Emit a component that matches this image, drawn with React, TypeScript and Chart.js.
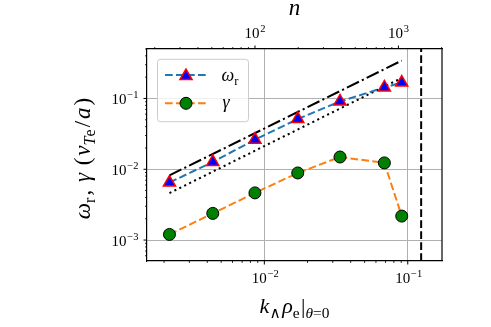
import React, { useEffect, useRef } from 'react';
import { Chart, registerables } from 'chart.js';

Chart.register(...registerables);

// ---- data ----
const kValues = [0.00218, 0.00437, 0.0086, 0.0171, 0.0337, 0.0687, 0.0908];
const omegaR = [0.0065, 0.0127, 0.0262, 0.0513, 0.0908, 0.143, 0.168];
const gammaValues = [0.0012, 0.00238, 0.00464, 0.00887, 0.0149, 0.0123, 0.00218];
const refK = [0.00218, 0.0908];
const refDashDot = [0.0082, 0.343];
const refDotted = [0.0046, 0.195];
const kCutoff = 0.124;
const kRange = [0.00152, 0.1733];
const yRange = [0.000506, 0.5];
const nRange = [17.66, 2013];
const xTicks = [0.01, 0.1];
const xTickLabels = ['10^−2', '10^−1'];
const yTicks = [0.001, 0.01, 0.1];
const yTickLabels = ['10^−3', '10^−2', '10^−1'];
const nTicks = [100, 1000];
const nTickLabels = ['10^2', '10^3'];

const SERIF = "'Liberation Serif', 'DejaVu Serif', serif";
const BLUE = '#1f77b4';
const ORANGE = '#ff7f0e';
const GRID = '#b0b0b0';
const DASH = [7.7, 3.3];
const DASHDOT = [13.3, 3.3, 2.1, 3.3];
const DOT = [2.1, 3.4];

const same = (a: number, b: number) => Math.abs(Math.log10(a) - Math.log10(b)) < 1e-6;
const isMajorOf = (ticks: number[]) => (c: any) =>
  c.tick && ticks.some((t) => same(t, c.tick.value)) ? GRID : 'rgba(0,0,0,0)';

type Seg = { t: string; i?: boolean; sub?: boolean };

function drawRich(
  ctx: CanvasRenderingContext2D, segs: Seg[], x: number, y: number, size: number,
  opts: { rotate?: boolean; align?: 'center' | 'left'; width?: number; maxGap?: number } = {}
) {
  ctx.save();
  ctx.translate(x, y);
  if (opts.rotate) ctx.rotate(-Math.PI / 2);
  ctx.textBaseline = 'alphabetic';
  ctx.textAlign = 'left';
  ctx.fillStyle = '#000';
  const font = (s: Seg) => `${s.i ? 'italic ' : ''}${s.sub ? size * 0.7 : size}px ${SERIF}`;
  const widths = segs.map((s) => { ctx.font = font(s); return ctx.measureText(s.t).width; });
  let total = widths.reduce((p, w) => p + w, 0);
  const gapBefore = segs.map((s, k) => k > 0 && !s.sub);
  const nGaps = gapBefore.filter(Boolean).length;
  let gap = 0;
  if (opts.width && nGaps > 0) {
    gap = Math.min(opts.maxGap ?? 2, Math.max(0, (opts.width - total) / nGaps));
    total += gap * nGaps;
  }
  let cx = opts.align === 'left' ? 0 : -total / 2;
  segs.forEach((s, k) => {
    if (gapBefore[k]) cx += gap;
    ctx.font = font(s);
    ctx.fillText(s.t, cx, s.sub ? size * 0.22 : 0);
    cx += widths[k];
  });
  ctx.restore();
}

function drawPow(ctx: CanvasRenderingContext2D, label: string, x: number, y: number, align: 'center' | 'right') {
  const [mant, exp] = label.split('^');
  const big = 15, small = 10.5;
  ctx.textBaseline = 'alphabetic';
  ctx.textAlign = 'left';
  ctx.fillStyle = '#000';
  ctx.font = `${big}px ${SERIF}`;
  const w1 = ctx.measureText(mant).width;
  ctx.font = `${small}px ${SERIF}`;
  const w2 = ctx.measureText(exp).width;
  const tot = w1 + 0.8 + w2;
  const sx = align === 'center' ? x - tot / 2 : x - tot;
  ctx.font = `${big}px ${SERIF}`;
  ctx.fillText(mant, sx, y);
  ctx.font = `${small}px ${SERIF}`;
  ctx.fillText(exp, sx + w1 + 0.8, y - 6.5);
}

function drawLogTicks(ctx: CanvasRenderingContext2D, scale: any, side: 'bottom' | 'left' | 'top', edge: number) {
  const lo = Math.floor(Math.log10(scale.min));
  const hi = Math.ceil(Math.log10(scale.max));
  ctx.strokeStyle = '#000';
  for (let e = lo; e <= hi; e++) {
    for (let m = 1; m <= 9; m++) {
      const v = m * Math.pow(10, e);
      if (v < scale.min * (1 - 1e-9) || v > scale.max * (1 + 1e-9)) continue;
      const p = scale.getPixelForValue(v);
      const len = m === 1 ? 3.5 : 2;
      ctx.lineWidth = m === 1 ? 1 : 0.8;
      ctx.beginPath();
      if (side === 'bottom') { ctx.moveTo(p, edge); ctx.lineTo(p, edge + len); }
      if (side === 'top') { ctx.moveTo(p, edge); ctx.lineTo(p, edge - len); }
      if (side === 'left') { ctx.moveTo(edge, p); ctx.lineTo(edge - len, p); }
      ctx.stroke();
    }
  }
}

function triangle(ctx: CanvasRenderingContext2D, x: number, y: number, r: number) {
  ctx.beginPath();
  for (let j = 0; j < 3; j++) {
    const ang = (j * 2 * Math.PI) / 3;
    const px = x + Math.sin(ang) * r;
    const py = y - Math.cos(ang) * r;
    if (j === 0) ctx.moveTo(px, py); else ctx.lineTo(px, py);
  }
  ctx.closePath();
}

const decor = {
  id: 'decor',
  afterDraw(chart: any) {
    const { ctx, chartArea: a, scales } = chart;
    ctx.save();
    // right spine
    ctx.strokeStyle = '#000';
    ctx.lineWidth = 1.2;
    ctx.beginPath();
    ctx.moveTo(a.right, a.top);
    ctx.lineTo(a.right, a.bottom);
    ctx.stroke();
    // ticks
    drawLogTicks(ctx, scales.x, 'bottom', a.bottom);
    drawLogTicks(ctx, scales.y, 'left', a.left);
    drawLogTicks(ctx, scales.x2, 'top', a.top);
    // tick labels
    xTicks.forEach((v, i) => drawPow(ctx, xTickLabels[i], scales.x.getPixelForValue(v) + 1, a.bottom + 22, 'center'));
    nTicks.forEach((v, i) => drawPow(ctx, nTickLabels[i], scales.x2.getPixelForValue(v), a.top - 10.7, 'center'));
    yTicks.forEach((v, i) => drawPow(ctx, yTickLabels[i], a.left - 8.5, scales.y.getPixelForValue(v) + 6, 'right'));

    // legend
    const lx = a.left + 10.5, ly = a.top + 10.3, lw = 91, lh = 62.4;
    ctx.beginPath();
    (ctx as any).roundRect(lx, ly, lw, lh, 3);
    ctx.fillStyle = 'rgba(255,255,255,0.8)';
    ctx.fill();
    ctx.strokeStyle = '#cccccc';
    ctx.lineWidth = 1;
    ctx.stroke();
    const rows = [ly + 15.7, ly + 44];
    const x0 = lx + 7.5, x1 = lx + 49.5, xm = lx + 28.5;
    ctx.setLineDash(DASH);
    ctx.lineWidth = 2;
    ctx.strokeStyle = BLUE;
    ctx.beginPath(); ctx.moveTo(x0, rows[0]); ctx.lineTo(x1, rows[0]); ctx.stroke();
    ctx.strokeStyle = ORANGE;
    ctx.beginPath(); ctx.moveTo(x0, rows[1]); ctx.lineTo(x1, rows[1]); ctx.stroke();
    ctx.setLineDash([]);
    triangle(ctx, xm, rows[0] + 1, 7);
    ctx.fillStyle = '#0000ff'; ctx.fill();
    ctx.strokeStyle = '#ff0000'; ctx.lineWidth = 1.5; ctx.stroke();
    ctx.beginPath(); ctx.arc(xm, rows[1], 6, 0, Math.PI * 2);
    ctx.fillStyle = '#008000'; ctx.fill();
    ctx.strokeStyle = '#000'; ctx.lineWidth = 1; ctx.stroke();
    drawRich(ctx, [{ t: 'ω', i: true }, { t: 'r', sub: true }], lx + 64, rows[0] + 5.7, 18, { align: 'left' });
    drawRich(ctx, [{ t: 'γ', i: true }], lx + 65, rows[1] + 4.7, 18, { align: 'left' });

    // titles
    const cxm = (a.left + a.right) / 2;
    drawRich(ctx, [{ t: 'n', i: true }], cxm, a.top - 34, 23);
    drawRich(ctx, [
      { t: 'k', i: true }, { t: '∧', sub: true }, { t: 'ρ', i: true }, { t: 'e', sub: true },
      { t: '|' }, { t: 'θ', i: true, sub: true }, { t: '=0', sub: true },
    ], cxm, a.bottom + 52, 22, { width: 75, maxGap: 1.5 });
    drawRich(ctx, [
      { t: 'ω', i: true }, { t: 'r', sub: true }, { t: ', ' }, { t: 'γ', i: true }, { t: ' (' },
      { t: 'v', i: true }, { t: 'T', i: true, sub: true }, { t: 'e', sub: true }, { t: '/' },
      { t: 'a', i: true }, { t: ')' },
    ], a.left - 57.5, (a.top + a.bottom) / 2 + 3.5, 23, { rotate: true, width: 128, maxGap: 2 });
    ctx.restore();
  },
};

export default function App() {
  const ref = useRef<HTMLCanvasElement>(null);
  useEffect(() => {
    if (!ref.current) return;
    const pts = (ys: number[], xs: number[]) => xs.map((x, i) => ({ x, y: ys[i] }));
    const chart = new Chart(ref.current, {
      type: 'line',
      data: {
        datasets: [
          {
            label: 'ωr',
            data: pts(omegaR, kValues),
            borderColor: BLUE,
            borderWidth: 2,
            borderDash: DASH,
            pointStyle: 'triangle',
            pointRadius: 7,
            pointBackgroundColor: '#0000ff',
            pointBorderColor: '#ff0000',
            pointBorderWidth: 1.5,
            xAxisID: 'x',
            yAxisID: 'y',
          },
          {
            label: 'γ',
            data: pts(gammaValues, kValues),
            borderColor: ORANGE,
            borderWidth: 2,
            borderDash: DASH,
            pointStyle: 'circle',
            pointRadius: 6,
            pointBackgroundColor: '#008000',
            pointBorderColor: '#000000',
            pointBorderWidth: 1,
            xAxisID: 'x',
            yAxisID: 'y',
          },
          {
            label: 'dashdot',
            data: pts(refDashDot, refK),
            borderColor: '#000',
            borderWidth: 2,
            borderDash: DASHDOT,
            pointRadius: 0,
            xAxisID: 'x',
            yAxisID: 'y',
          },
          {
            label: 'dotted',
            data: pts(refDotted, refK),
            borderColor: '#000',
            borderWidth: 2,
            borderDash: DOT,
            pointRadius: 0,
            xAxisID: 'x',
            yAxisID: 'y',
          },
          {
            label: 'cutoff',
            data: [{ x: kCutoff, y: yRange[0] }, { x: kCutoff, y: yRange[1] }],
            borderColor: '#000',
            borderWidth: 2,
            borderDash: DASH,
            pointRadius: 0,
            xAxisID: 'x',
            yAxisID: 'y',
          },
        ],
      },
      options: {
        responsive: false,
        animation: false,
        events: [],
        layout: { padding: { left: 0, right: 49, top: 0, bottom: 0 } },
        plugins: { legend: { display: false }, tooltip: { enabled: false }, title: { display: false } },
        scales: {
          x: {
            type: 'logarithmic',
            position: 'bottom',
            min: kRange[0],
            max: kRange[1],
            afterFit: (s: any) => { s.height = 66; },
            grid: { color: isMajorOf(xTicks), drawTicks: false, lineWidth: 1 },
            border: { color: '#000', width: 1.2 },
            ticks: { display: false, autoSkip: false },
          },
          x2: {
            type: 'logarithmic',
            position: 'top',
            min: nRange[0],
            max: nRange[1],
            afterFit: (s: any) => { s.height = 49; },
            grid: { drawOnChartArea: false, drawTicks: false, color: 'rgba(0,0,0,0)' },
            border: { color: '#000', width: 1.2 },
            ticks: { display: false, autoSkip: false },
          },
          y: {
            type: 'logarithmic',
            position: 'left',
            min: yRange[0],
            max: yRange[1],
            afterFit: (s: any) => { s.width = 147; },
            grid: { color: isMajorOf(yTicks), drawTicks: false, lineWidth: 1 },
            border: { color: '#000', width: 1.2 },
            ticks: { display: false, autoSkip: false },
          },
        },
      } as any,
      plugins: [decor],
    });
    return () => chart.destroy();
  }, []);
  return (
    <div style={{ position: 'absolute', left: 0, top: 0, width: 491, height: 327 }}>
      <canvas ref={ref} width={491} height={327} />
    </div>
  );
}
